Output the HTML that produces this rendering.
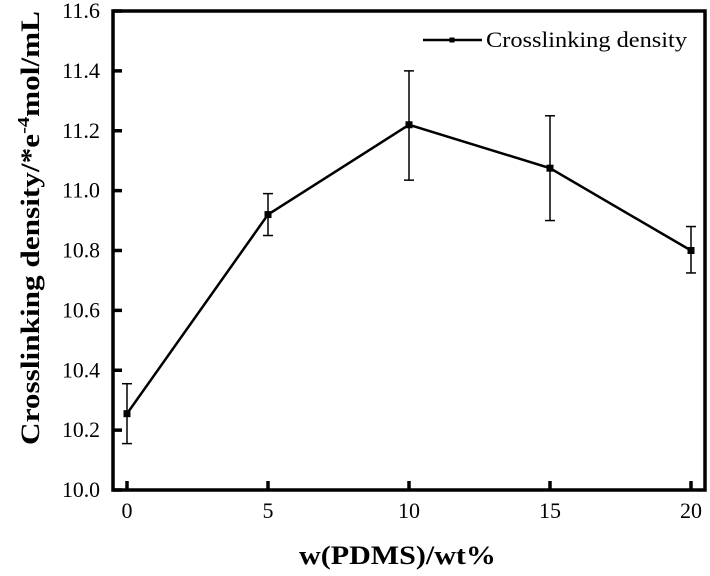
<!DOCTYPE html>
<html><head><meta charset="utf-8"><style>
html,body{margin:0;padding:0;background:#fff;}
svg{display:block;font-family:"Liberation Serif",serif;}
</style></head><body>
<svg id="chart" width="710" height="576" viewBox="0 0 710 576" xmlns="http://www.w3.org/2000/svg">
<g id="axes"></g>
<g id="series"></g>
<g>
 <line x1="423" y1="40" x2="482" y2="40" stroke="#000" stroke-width="2.5"/>
 <rect x="449.5" y="37.5" width="5" height="5" fill="#000"/>
 <text x="486" y="47" font-size="22" textLength="201" lengthAdjust="spacingAndGlyphs">Crosslinking density</text>
</g>
<text transform="translate(39,228) rotate(-90)" text-anchor="middle" font-size="26" font-weight="bold" textLength="434" lengthAdjust="spacingAndGlyphs">Crosslinking density/*e<tspan dy="-10" font-size="17">-4</tspan><tspan dy="10">mol/mL</tspan></text>
<text x="299" y="564" font-size="26" font-weight="bold" textLength="197" lengthAdjust="spacingAndGlyphs">w(PDMS)/wt%</text>
</svg>
<script>
const categories=[0,5,10,15,20];
const values=[10.255,10.92,11.22,11.075,10.80];
const errUp=[10.355,10.99,11.40,11.25,10.88];
const errDown=[10.155,10.85,11.035,10.90,10.725];
const yTicks=[10.0,10.2,10.4,10.6,10.8,11.0,11.2,11.4,11.6];
const xTicks=[0,5,10,15,20];
const NS="http://www.w3.org/2000/svg";
function xs(v){return 127+(v-0)*(691-127)/20;}
function ys(v){return 490-(v-10)*(490-11)/1.6;}
function mk(t,a,p){const e=document.createElementNS(NS,t);for(const k in a)e.setAttribute(k,a[k]);p.appendChild(e);return e;}
const ax=document.getElementById('axes'),se=document.getElementById('series');
const fr=mk('rect',{x:113,y:11,width:592,height:479,fill:'none',stroke:'#000','stroke-width':3.5},ax);


yTicks.forEach(v=>{const y=ys(v);
 const l=mk('line',{x1:113,x2:122,y1:y,y2:y,stroke:'#000','stroke-width':3.5},ax);
 
 
 const t=mk('text',{x:62,y:y+7,'font-size':22,textLength:38,lengthAdjust:'spacingAndGlyphs'},ax);t.textContent=v.toFixed(1);
 
 
});
xTicks.forEach(v=>{const x=xs(v);
 const l=mk('line',{x1:x,x2:x,y1:490,y2:481,stroke:'#000','stroke-width':3.5},ax);
 
 
 const t=mk('text',{x:x,y:518,'text-anchor':'middle','font-size':22},ax);t.textContent=v;
 
 
});
const line=mk('polyline',{points:categories.map((c,i)=>xs(c)+','+ys(values[i])).join(' '),fill:'none',stroke:'#000','stroke-width':2.5},se);


categories.forEach((c,i)=>{const x=xs(c);
 const g=mk('g',{},se);
 
 
 mk('line',{x1:x,x2:x,y1:ys(errUp[i]),y2:ys(errDown[i]),stroke:'#000','stroke-width':1.5},g);
 mk('line',{x1:x-5,x2:x+5,y1:ys(errUp[i]),y2:ys(errUp[i]),stroke:'#000','stroke-width':1.5},g);
 mk('line',{x1:x-5,x2:x+5,y1:ys(errDown[i]),y2:ys(errDown[i]),stroke:'#000','stroke-width':1.5},g);
 const p=mk('rect',{x:x-3.5,y:ys(values[i])-3.5,width:7,height:7,fill:'#000'},se);
 
 
});
</script>
</body></html>
